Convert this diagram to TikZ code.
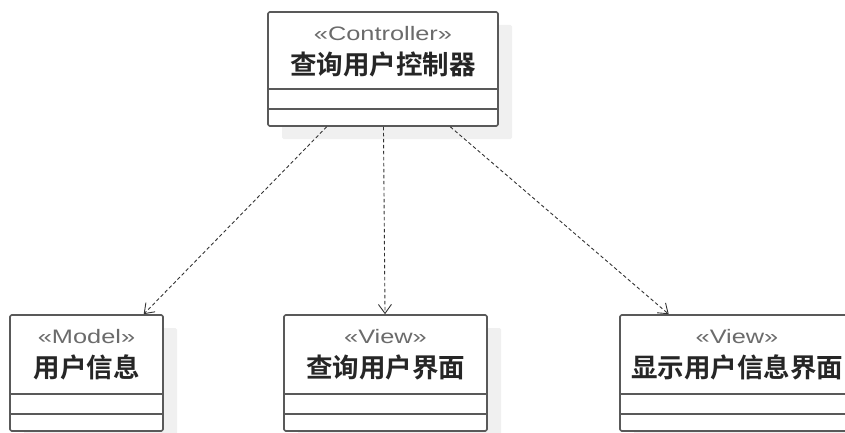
\documentclass[tikz,border=0pt]{standalone}
\usepackage{fontspec}
\setmainfont{Liberation Sans}
\newfontfamily\stereofont[FakeStretch=1.3]{Liberation Sans}
\newfontfamily\cjkbold{Noto Sans CJK SC Bold}
\usetikzlibrary{arrows.meta,shadows}
\tikzset{
	classbox/.style={draw=black!65, line width=1.6pt, rounded corners=1.5pt, fill=white,
		minimum width=#1, minimum height=116pt, inner sep=0pt,
		drop shadow={shadow xshift=14pt, shadow yshift=-13pt, fill=black!6, opacity=1}},
	stereo/.style={font=\stereofont\fontsize{19.5}{21}\selectfont, text=black!58, inner sep=0pt},
	cname/.style={font=\cjkbold\fontsize{26.5}{28}\selectfont, text=black!85, inner sep=0pt},
	sepline/.style={draw=black!65, line width=1.6pt},
	dep/.style={draw=black!80, line width=0.9pt, dash pattern=on 3.5pt off 2.5pt,
		-{Straight Barb[length=9pt,width=13pt,line width=0.9pt]}}
}
\begin{document}
\begin{tikzpicture}[x=1pt, y=-1pt, line join=round]
	\useasboundingbox (0,0) rectangle (845,433);
	\clip (0,0) rectangle (845,433);
	% classes
	\node[classbox=230pt, minimum height=114pt] (ctrl) at (383,69) {};
	\node[classbox=153pt] (model) at (86.5,373) {};
	\node[classbox=203pt] (qview) at (385.5,373) {};
	\node[classbox=234pt] (sview) at (737,373) {};
	\foreach \n/\s/\t in {ctrl/Controller/查询用户控制器, model/Model/用户信息,
		qview/View/查询用户界面, sview/View/显示用户信息界面} {
		\node[stereo] (\n-st) at ([yshift=-22pt]\n.north) {«\s»};
		\node[cname] (\n-nm) at ([yshift=-53pt]\n.north) {\t};
		\draw[sepline] ([yshift=38pt]\n.south west) -- ([yshift=38pt]\n.south east);
		\draw[sepline] ([yshift=18pt]\n.south west) -- ([yshift=18pt]\n.south east);
	}
	% dependencies
	\draw[dep] (ctrl) -- (model);
	\draw[dep] (ctrl) -- (qview);
	\draw[dep] (ctrl) -- (sview);
\end{tikzpicture}
\end{document}
